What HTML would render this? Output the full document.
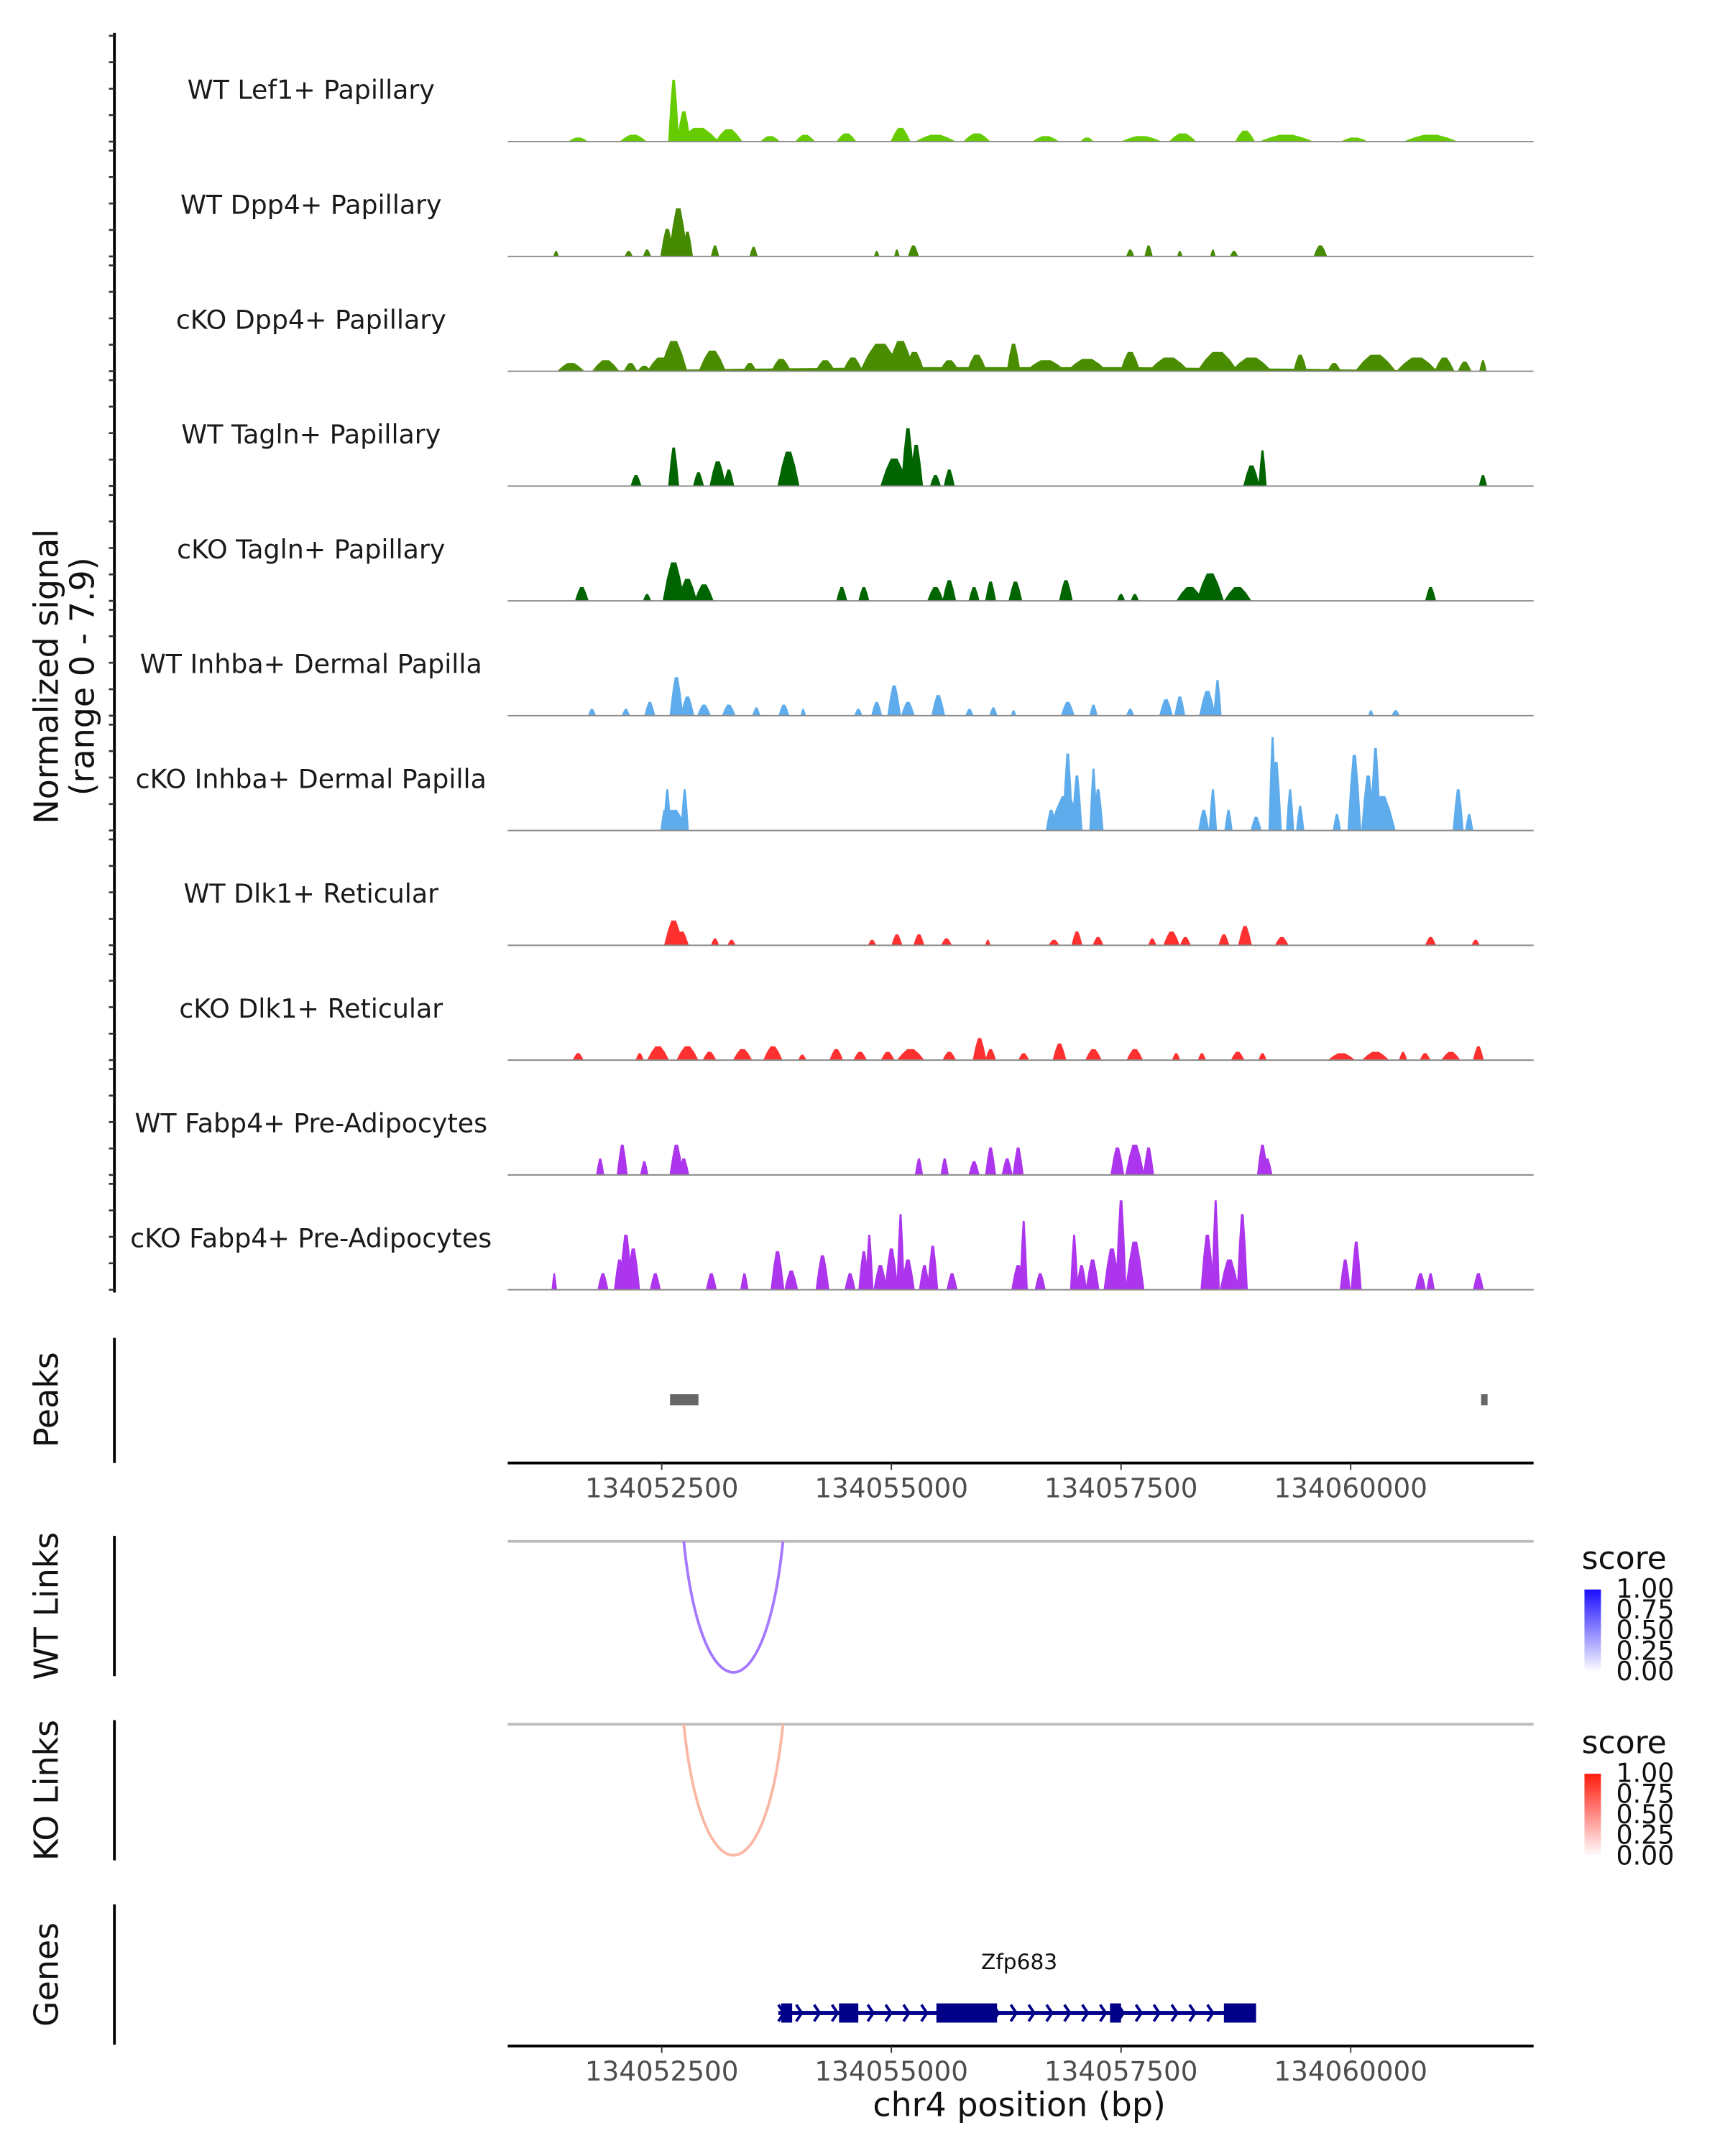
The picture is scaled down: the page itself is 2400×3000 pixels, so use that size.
<!DOCTYPE html>
<html><head><meta charset="utf-8"><style>
html,body{margin:0;padding:0;background:#fff;}
svg{display:block;font-family:"DejaVu Sans","Liberation Sans",sans-serif;}
</style></head><body>
<svg id="chart" xmlns="http://www.w3.org/2000/svg" width="2400" height="3000" viewBox="0 0 1254 1568">
<rect width="1254" height="1568" fill="#fff"/>
<g id="tracks"></g>
<text transform="translate(42,492) rotate(-90)" text-anchor="middle" font-size="24" fill="#111">Normalized signal</text>
<text transform="translate(68,492) rotate(-90)" text-anchor="middle" font-size="24" fill="#111">(range 0 - 7.9)</text>
<line x1="83" y1="973" x2="83" y2="1064" stroke="#000" stroke-width="2"/>
<text transform="translate(42,1018) rotate(-90)" text-anchor="middle" font-size="24" fill="#111">Peaks</text>
<g id="peaks"></g>
<g id="xaxis1"></g>
<line x1="83" y1="1117" x2="83" y2="1219" stroke="#000" stroke-width="2"/>
<text transform="translate(42,1168) rotate(-90)" text-anchor="middle" font-size="24" fill="#111">WT Links</text>
<line x1="83" y1="1251" x2="83" y2="1353" stroke="#000" stroke-width="2"/>
<text transform="translate(42,1302) rotate(-90)" text-anchor="middle" font-size="24" fill="#111">KO Links</text>
<g id="links"></g>
<defs>
<linearGradient id="gBlue" x1="0" y1="1" x2="0" y2="0"><stop offset="0" stop-color="#ffffff"/><stop offset="1" stop-color="#1a0dff"/></linearGradient>
<linearGradient id="gRed" x1="0" y1="1" x2="0" y2="0"><stop offset="0" stop-color="#ffffff"/><stop offset="1" stop-color="#ff1a0d"/></linearGradient>
</defs>
<g>
<text x="1150" y="1141" font-size="23" fill="#111">score</text>
<rect x="1152" y="1156" width="12" height="60" fill="url(#gBlue)"/>
<g font-size="19" fill="#111">
<text x="1175" y="1162">1.00</text><text x="1175" y="1177">0.75</text><text x="1175" y="1192">0.50</text><text x="1175" y="1207">0.25</text><text x="1175" y="1222">0.00</text></g>
</g>
<g>
<text x="1150" y="1275" font-size="23" fill="#111">score</text>
<rect x="1152" y="1290" width="12" height="60" fill="url(#gRed)"/>
<g font-size="19" fill="#111">
<text x="1175" y="1296">1.00</text><text x="1175" y="1311">0.75</text><text x="1175" y="1326">0.50</text><text x="1175" y="1341">0.25</text><text x="1175" y="1356">0.00</text></g>
</g>
<line x1="83" y1="1385" x2="83" y2="1487" stroke="#000" stroke-width="2"/>
<text transform="translate(42,1436) rotate(-90)" text-anchor="middle" font-size="24" fill="#111">Genes</text>
<g id="genes"></g>
<g id="xaxis2"></g>
<text x="741" y="1539" text-anchor="middle" font-size="24" fill="#111">chr4 position (bp)</text>
</svg>
<script>
// genomic positions in kb offset from 134050000; heights in track units (max 77)
const trackNames = ["WT Lef1+ Papillary","WT Dpp4+ Papillary","cKO Dpp4+ Papillary","WT Tagln+ Papillary","cKO Tagln+ Papillary","WT Inhba+ Dermal Papilla","cKO Inhba+ Dermal Papilla","WT Dlk1+ Reticular","cKO Dlk1+ Reticular","WT Fabp4+ Pre-Adipocytes","cKO Fabp4+ Pre-Adipocytes"];
const trackColors = ["#66cc00","#458a00","#4a8c00","#006400","#006400","#5eacec","#5eacec","#ff3030","#ff3030","#ad35ee","#ad35ee"];
const tickLabels = ["134052500","134055000","134057500","134060000"];
const tickKb = [2.5,5.0,7.5,10.0];
const lef1 = [[1.59,.22,3],[2.19,.3,5],[2.63,.12,45],[2.74,.15,22],[2.90,.45,10],[3.23,.3,9],[3.68,.22,4],[4.06,.22,5],[4.51,.22,6],[5.10,.22,10],[5.48,.45,5],[5.93,.3,6],[6.68,.3,4],[7.13,.15,3],[7.72,.45,4],[8.17,.3,6],[8.85,.22,8],[9.30,.6,5],[10.04,.3,3],[10.87,.6,5]];
const dpp4wt = [[1.35,.06,4],[2.14,.09,4],[2.34,.09,5],[2.56,.15,20],[2.68,.21,35],[2.78,.12,18],[3.08,.09,8],[3.50,.09,7],[4.84,.06,4],[5.06,.06,5],[5.24,.12,8],[7.60,.09,5],[7.80,.09,8],[8.14,.06,4],[8.50,.06,5],[8.73,.09,4],[9.67,.15,8]];
const dpp4ko = [[6.40,10.1,3],[1.51,.3,6],[1.89,.3,8],[2.16,.15,6],[2.31,.15,4],[2.49,.3,10],[2.63,.3,22],[3.05,.3,15],[3.46,.15,6],[3.80,.22,9],[4.28,.22,8],[4.58,.22,10],[4.88,.45,20],[5.10,.3,22],[5.25,.22,14],[5.63,.22,8],[5.93,.22,12],[6.33,.15,20],[6.68,.45,8],[7.13,.45,9],[7.60,.22,14],[8.02,.45,10],[8.55,.45,14],[8.92,.45,10],[9.45,.15,12],[9.82,.15,6],[10.27,.45,12],[10.72,.45,10],[11.02,.22,10],[11.24,.15,7],[11.44,.08,8]];
const tagwt = [[2.22,.12,8],[2.63,.12,28],[2.90,.12,10],[3.11,.18,18],[3.23,.12,12],[3.88,.24,25],[5.03,.3,20],[5.18,.15,42],[5.27,.15,30],[5.48,.12,8],[5.63,.12,12],[8.92,.18,15],[9.04,.09,26],[11.44,.09,8]];
const tagko = [[1.63,.15,10],[2.34,.09,5],[2.63,.24,28],[2.78,.21,16],[2.96,.21,12],[4.46,.12,10],[4.70,.12,10],[5.48,.18,10],[5.63,.15,15],[5.90,.12,10],[6.08,.12,14],[6.35,.15,14],[6.90,.15,15],[7.50,.09,5],[7.65,.09,5],[8.25,.3,10],[8.47,.3,20],[8.77,.3,10],[10.87,.12,10]];
const inhwt = [[1.74,.09,5],[2.11,.09,5],[2.37,.12,10],[2.66,.15,28],[2.78,.15,14],[2.96,.15,8],[3.23,.15,8],[3.53,.09,6],[3.83,.12,8],[4.04,.06,5],[4.64,.09,5],[4.84,.12,10],[5.03,.15,22],[5.18,.15,10],[5.51,.15,15],[5.85,.09,5],[6.11,.09,6],[6.33,.06,4],[6.92,.15,10],[7.20,.09,8],[7.60,.09,5],[7.99,.15,12],[8.14,.12,14],[8.44,.18,18],[8.55,.09,26],[10.22,.06,4],[10.49,.09,4]];
const inhko = [[2.53,.09,15],[2.56,.09,30],[2.63,.3,15],[2.75,.09,30],[6.74,.12,15],[6.90,.37,25],[6.92,.12,56],[7.02,.12,40],[7.20,.09,45],[7.25,.12,30],[8.40,.12,15],[8.50,.09,30],[8.67,.09,15],[8.97,.12,10],[9.15,.09,68],[9.19,.12,50],[9.34,.09,30],[9.45,.09,18],[9.85,.09,12],[10.04,.15,55],[10.19,.15,40],[10.27,.12,60],[10.34,.3,25],[11.17,.12,30],[11.29,.09,12]];
const dlkwt = [[2.63,.21,18],[2.72,.15,10],[3.08,.09,5],[3.26,.09,4],[4.79,.09,4],[5.06,.12,8],[5.30,.12,8],[5.60,.12,5],[6.05,.06,4],[6.77,.12,4],[7.02,.12,10],[7.25,.12,6],[7.84,.09,5],[8.05,.18,10],[8.20,.12,6],[8.62,.12,8],[8.85,.15,14],[9.25,.15,6],[10.87,.12,6],[11.36,.09,4]];
const dlkko = [[1.59,.12,5],[2.26,.09,5],[2.46,.24,10],[2.78,.24,10],[3.02,.15,6],[3.38,.21,8],[3.71,.21,10],[4.03,.09,4],[4.40,.15,8],[4.66,.15,6],[4.96,.15,6],[5.21,.3,8],[5.63,.15,6],[5.96,.15,16],[6.08,.12,8],[6.44,.12,5],[6.83,.15,12],[7.20,.18,8],[7.65,.18,8],[8.10,.09,5],[8.38,.09,5],[8.77,.15,6],[9.04,.09,5],[9.90,.3,5],[10.27,.3,6],[10.57,.09,6],[10.81,.12,5],[11.09,.21,6],[11.39,.12,10]];
const fabwt = [[1.83,.09,12],[2.07,.12,22],[2.31,.09,10],[2.66,.15,22],[2.74,.12,12],[5.30,.09,12],[5.58,.09,12],[5.90,.12,10],[6.08,.12,20],[6.26,.12,12],[6.38,.12,20],[7.46,.15,20],[7.65,.21,22],[7.80,.12,20],[9.04,.12,22],[9.09,.12,12]];
const fabko = [[1.33,.06,12],[1.86,.12,12],[2.04,.12,22],[2.11,.15,40],[2.19,.15,30],[2.43,.12,12],[3.04,.12,12],[3.40,.09,12],[3.76,.15,28],[3.91,.15,14],[4.25,.15,25],[4.55,.12,12],[4.70,.12,28],[4.76,.09,40],[4.88,.15,18],[5.00,.15,30],[5.10,.09,55],[5.18,.15,22],[5.36,.12,18],[5.45,.12,32],[5.66,.12,12],[6.38,.15,18],[6.44,.09,50],[6.62,.12,12],[6.99,.09,40],[7.07,.12,18],[7.19,.15,22],[7.40,.18,30],[7.50,.12,65],[7.65,.21,35],[8.44,.15,40],[8.53,.09,65],[8.68,.21,22],[8.82,.12,55],[9.94,.12,22],[10.06,.12,35],[10.76,.12,12],[10.87,.09,12],[11.39,.12,12]];
const trackPeaks = [lef1,dpp4wt,dpp4ko,tagwt,tagko,inhwt,inhko,dlkwt,dlkko,fabwt,fabko];
const peakStarts = [2.59,11.42];
const peakEnds = [2.90,11.49];
const linkStarts = [2.74];
const linkEnds = [3.82];
const linkScoresWT = [0.45];
const linkScoresKO = [0.25];
const geneStart = [3.77];
const geneEnd = [8.97];
const exonStarts = [3.80,4.43,5.49,7.38,8.62];
const exonEnds = [3.92,4.64,6.15,7.50,8.97];

const NS = "http://www.w3.org/2000/svg";
const xS = kb => 481 + (kb - 2.5) * 66.8;
const X0 = 369, X1 = 1115, TRACK0 = 103, TRACKH = 83.5, YMAX = 77;
function mk(tag, attrs, parent){ const e = document.createElementNS(NS, tag); for (const k in attrs) e.setAttribute(k, attrs[k]); parent.appendChild(e); return e; }

const tg = document.getElementById('tracks');
const ax = mk('line',{x1:83,y1:24,x2:83,y2:940,stroke:'#000','stroke-width':2},tg);


trackNames.forEach((name, i) => {
  const base = TRACK0 + i * TRACKH;
  const g = mk('g',{},tg);
  
  
  for (let t = 0; t < 5; t++) {
    const y = base - t * (YMAX / 4);
    const tk = mk('line',{x1:79,y1:y,x2:83,y2:y,stroke:'#333','stroke-width':1.4},g);
    
    
  }
  const lab = mk('text',{x:226,y:base-31,'text-anchor':'middle','font-size':19,fill:'#1a1a1a'},g);
  lab.textContent = name;
  
  
  trackPeaks[i].forEach(p => {
    const l = xS(p[0] - p[1]/2), r = xS(p[0] + p[1]/2), h = p[2] * (YMAX/77), w = r - l, c = (l + r)/2;
    const pts = [[l,base],[l+w*0.2,base-h*0.6],[c-w*0.12,base-h],[c+w*0.12,base-h],[r-w*0.2,base-h*0.6],[r,base]].map(q=>q.join(',')).join(' ');
    const poly = mk('polygon',{points:pts,fill:trackColors[i]},g);
    
    
  });
  const bl = mk('line',{x1:X0,y1:base,x2:X1,y2:base,stroke:'#8a8a8a','stroke-width':1},g);
  
  
});

const pg = document.getElementById('peaks');
peakStarts.forEach((s, i) => {
  const r = mk('rect',{x:xS(s),y:1014,width:Math.max(2,xS(peakEnds[i])-xS(s)),height:8,fill:'#666'},pg);
  
  
});

function xAxis(id, y){
  const g = document.getElementById(id);
  const l = mk('line',{x1:X0,y1:y,x2:X1,y2:y,stroke:'#000','stroke-width':2},g);
  
  
  tickKb.forEach((k, i) => {
    const t = mk('line',{x1:xS(k),y1:y,x2:xS(k),y2:y+5,stroke:'#333','stroke-width':1},g);
    
    
    const tx = mk('text',{x:xS(k),y:y+25,'text-anchor':'middle','font-size':19.5,fill:'#4d4d4d'},g);
    tx.textContent = tickLabels[i];
    
    
  });
}
xAxis('xaxis1', 1064);
xAxis('xaxis2', 1488);

const lg = document.getElementById('links');
function linkPanel(base, starts, ends, scores, color){
  const bl = mk('line',{x1:X0,y1:base,x2:X1,y2:base,stroke:'#bbb','stroke-width':2},lg);
  
  
  starts.forEach((s, i) => {
    const a = xS(s), b = xS(ends[i]), d = 127;
    const p = mk('path',{d:`M${a},${base} C${a+(b-a)*0.18},${base+d} ${b-(b-a)*0.18},${base+d} ${b},${base}`,fill:'none',stroke:color,'stroke-width':2},lg);
    
    
  });
}
linkPanel(1121, linkStarts, linkEnds, linkScoresWT, '#a478ff');
linkPanel(1254, linkStarts, linkEnds, linkScoresKO, '#f9b7a4');

const gg = document.getElementById('genes');
const gy = 1464;
const gl = mk('line',{x1:xS(geneStart[0]),y1:gy,x2:xS(geneEnd[0]),y2:gy,stroke:'#000088','stroke-width':3},gg);


for (let x = xS(geneStart[0]); x < xS(geneEnd[0]) - 4; x += 13) {
  const c = mk('polyline',{points:`${x},${gy-6} ${x+4},${gy} ${x},${gy+6}`,fill:'none',stroke:'#000088','stroke-width':2},gg);
  
  
}
exonStarts.forEach((s, i) => {
  const r = mk('rect',{x:xS(s),y:gy-7,width:xS(exonEnds[i])-xS(s),height:14,fill:'#000088'},gg);
  
  
});
const gn = mk('text',{x:741,y:1432,'text-anchor':'middle','font-size':15.5,fill:'#111'},gg);
gn.textContent = 'Zfp683';


</script>
</body></html>
